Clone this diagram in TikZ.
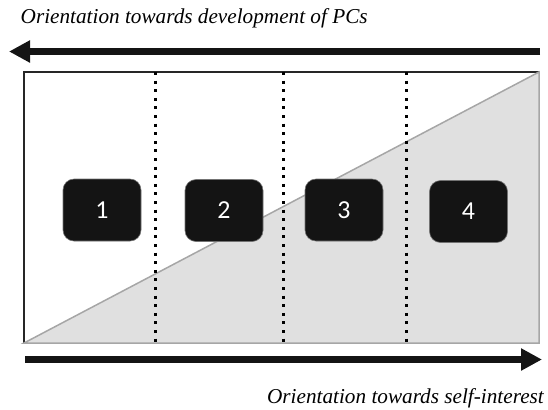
\documentclass[tikz,border=0pt]{standalone}
\usepackage{fontspec}
\setmainfont{Liberation Serif}
\newfontfamily\digitfont{Carlito}
\usepackage{tikz}
\usetikzlibrary{arrows.meta,positioning}

\begin{document}
\begin{tikzpicture}
[x=1bp,y=-1bp,
numbox/.style={rectangle,rounded corners=11bp,draw=black!55,fill=black!92,line width=0.6bp,text=white,minimum width=78bp,minimum height=62bp,inner sep=0pt,font=\digitfont\fontsize{26}{30}\selectfont},
divider/.style={line width=3bp,dash pattern=on 3bp off 5.6bp},
bigarrow/.style={line width=7bp,-{Triangle[length=21bp,width=21bp]}},
caption/.style={inner sep=0pt,font=\rmfamily\itshape\fontsize{21.3}{24}\selectfont}]
\useasboundingbox (0,0) rectangle (548,409);

\node[caption,anchor=base west] (toptext) at (20.5,23) {Orientation towards development of PCs};
\node[caption,anchor=base east] (bottext) at (544,403) {Orientation towards self-interest};

\coordinate (tl) at (24,72);
\coordinate (tr) at (539,72);
\coordinate (bl) at (24,343);
\coordinate (br) at (539,343);

\draw [line width=2bp,black!85] (tl) rectangle (br);
\draw [fill=black!12,draw=black!35,line width=1.5bp] (bl) -- (tr) -- (br) -- cycle;

\coordinate (d1t) at (155,72);
\coordinate (d1b) at (155,343);
\coordinate (d2t) at (283,72);
\coordinate (d2b) at (283,343);
\coordinate (d3t) at (406,72);
\coordinate (d3b) at (406,343);
\draw [divider] (d1t) -- (d1b);
\draw [divider] (d2t) -- (d2b);
\draw [divider] (d3t) -- (d3b);

\node[numbox] (box1) at (102,210) {1};
\node[numbox] (box2) at (224,210.5) {2};
\node[numbox] (box3) at (344,210) {3};
\node[numbox] (box4) at (468.5,211.5) {4};

\coordinate (topstart) at (540,51.5);
\coordinate (topend) at (9,51.5);
\coordinate (botstart) at (25,359.5);
\coordinate (botend) at (542,359.5);
\draw [bigarrow,black!92] (topstart) -- (topend);
\draw [bigarrow,black!92] (botstart) -- (botend);
\end{tikzpicture}
\end{document}
